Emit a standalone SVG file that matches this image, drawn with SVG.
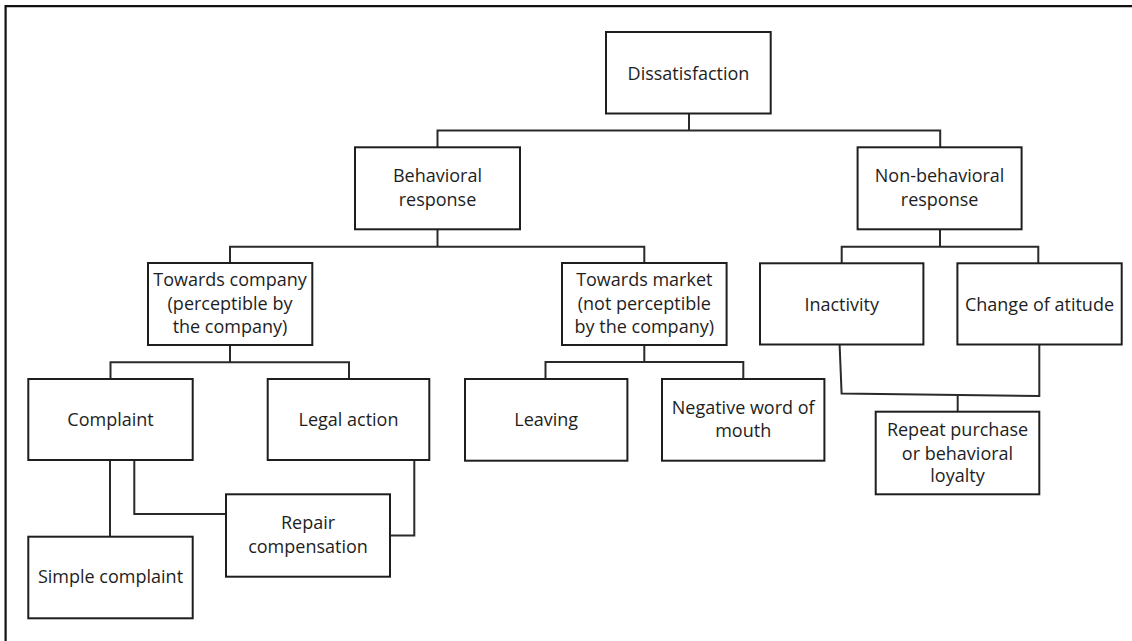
<svg xmlns="http://www.w3.org/2000/svg" width="1132" height="641" viewBox="0 0 1132 641">
<style>
.box{fill:#fff;stroke:#1e1e1e;stroke-width:2}
.t{font-family:"Open Sans","Liberation Sans",sans-serif;font-size:18px;fill:#1e1e1e;text-anchor:middle}
.c{fill:none;stroke:#2a2a2a;stroke-width:2}
.frame{fill:none;stroke:#111;stroke-width:2.2}
</style>
<rect x="0" y="0" width="1132" height="641" fill="#fff"/>
<path class="frame" d="M5.6,641 V6.2 H1132"/>
<g id="connectors">
<path class="c" d="M689,114 V130.5"/>
<path class="c" d="M437.5,147 V130.5 H940.2 V147"/>
<path class="c" d="M437.5,229 V246.7"/>
<path class="c" d="M230,263 V246.7 H644.3 V263"/>
<path class="c" d="M940,229 V246.7"/>
<path class="c" d="M841.7,263 V246.7 H1038.3 V263"/>
<path class="c" d="M230,345 V362.3"/>
<path class="c" d="M110.5,379 V362.3 H349 V379"/>
<path class="c" d="M644.3,345 V362"/>
<path class="c" d="M545.5,379 V362 H743.3 V379"/>
<path class="c" d="M839.6,344.5 L841.6,393.5 L1039.3,396 V344.5"/>
<path class="c" d="M957.7,395 V411.7"/>
<path class="c" d="M110,460 V536.7"/>
<path class="c" d="M134.3,460 V514 H226"/>
<path class="c" d="M414.3,460 V535.5 H390"/>
</g>
<g id="dissatisfaction"><rect class="box" x="606" y="32" width="164.7" height="81.5"/><text class="t" x="688.5" y="79.5">Dissatisfaction</text></g>
<g id="behavioral"><rect class="box" x="355" y="147.3" width="165" height="82"/><text class="t" x="437.5" y="182.2">Behavioral</text><text class="t" x="437.5" y="206.2">response</text></g>
<g id="nonbehavioral"><rect class="box" x="857.6" y="147.3" width="164" height="82"/><text class="t" x="939.6" y="182.2">Non-behavioral</text><text class="t" x="939.6" y="206.2">response</text></g>
<g id="towards-company"><rect class="box" x="148" y="263" width="164.3" height="82"/><text class="t" x="230" y="286.2">Towards company</text><text class="t" x="230" y="309.6">(perceptible by</text><text class="t" x="230" y="333">the company)</text></g>
<g id="towards-market"><rect class="box" x="562" y="263" width="164.6" height="82"/><text class="t" x="644.3" y="286.2">Towards market</text><text class="t" x="644.3" y="309.6">(not perceptible</text><text class="t" x="644.3" y="333">by the company)</text></g>
<g id="inactivity"><rect class="box" x="760" y="263.3" width="163.4" height="81.2"/><text class="t" x="841.7" y="310.6">Inactivity</text></g>
<g id="change-atitude"><rect class="box" x="957.4" y="263.3" width="164.3" height="81.2"/><text class="t" x="1039.5" y="310.6">Change of atitude</text></g>
<g id="complaint"><rect class="box" x="28.3" y="379" width="164.4" height="81"/><text class="t" x="110.5" y="425.5">Complaint</text></g>
<g id="legal-action"><rect class="box" x="267.7" y="379" width="161.6" height="81"/><text class="t" x="348.5" y="425.5">Legal action</text></g>
<g id="leaving"><rect class="box" x="465" y="379" width="162.4" height="81.7"/><text class="t" x="546.2" y="425.5">Leaving</text></g>
<g id="negative-wom"><rect class="box" x="662" y="379" width="162.4" height="81.7"/><text class="t" x="743.2" y="413.5">Negative word of</text><text class="t" x="743.2" y="437.2">mouth</text></g>
<g id="repeat-purchase"><rect class="box" x="875.7" y="411.7" width="163.6" height="82.6"/><text class="t" x="957.5" y="436.2">Repeat purchase</text><text class="t" x="957.5" y="459.5">or behavioral</text><text class="t" x="957.5" y="481.7">loyalty</text></g>
<g id="simple-complaint"><rect class="box" x="28.3" y="536.7" width="164.4" height="81.6"/><text class="t" x="110.5" y="582.9">Simple complaint</text></g>
<g id="repair-compensation"><rect class="box" x="226" y="494.3" width="164" height="82.4"/><text class="t" x="308" y="528.9">Repair</text><text class="t" x="308" y="552.9">compensation</text></g>
</svg>
